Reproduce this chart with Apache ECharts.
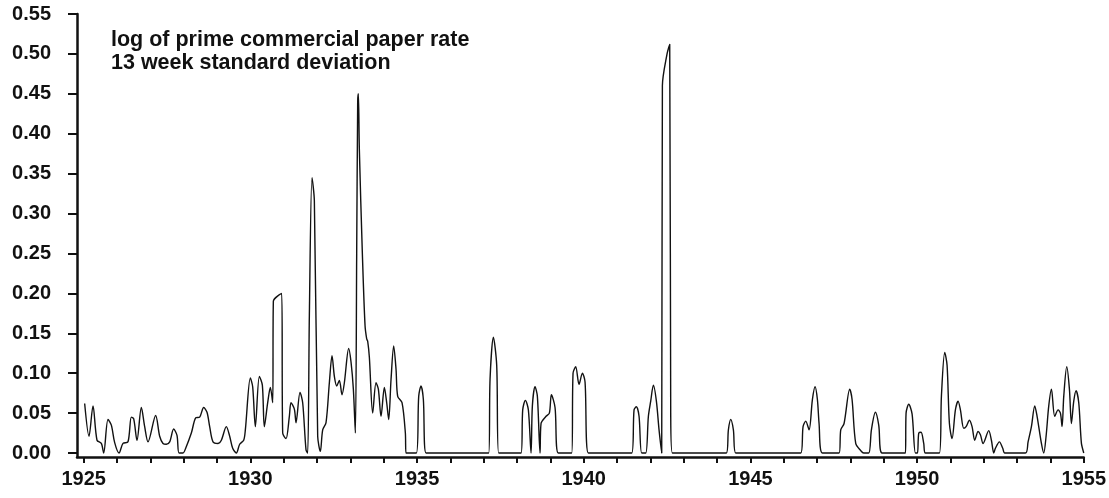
<!DOCTYPE html>
<html>
<head>
<meta charset="utf-8">
<script src="https://cdn.jsdelivr.net/npm/echarts@6/dist/echarts.min.js"></script>
<style>
html,body{margin:0;padding:0;background:#fff;}
#chart{width:1109px;height:498px;}
</style>
</head>
<body>
<div id="chart"></div>
<script>
const titleLines = ["log of prime commercial paper rate", "13 week standard deviation"];
const xTickYears = [1925,1926,1927,1928,1929,1930,1931,1932,1933,1934,1935,1936,1937,1938,1939,1940,1941,1942,1943,1944,1945,1946,1947,1948,1949,1950,1951,1952,1953,1954,1955];
const xLabelYears = [1925,1930,1935,1940,1945,1950,1955];
const yTickValues = [0,0.05,0.10,0.15,0.20,0.25,0.30,0.35,0.40,0.45,0.50,0.55];

const years = [
1925.03,1925.16,1925.28,1925.40,1925.53,1925.60,1925.73,1925.83,1925.93,1926.06,
1926.18,1926.33,1926.43,1926.50,1926.60,1926.73,1926.83,1926.93,1927.16,1927.28,
1927.38,1927.48,1927.58,1927.70,1927.80,1927.86,1927.98,1928.06,1928.23,1928.36,
1928.48,1928.60,1928.70,1928.78,1928.88,1929.03,1929.13,1929.28,1929.38,1929.47,
1929.58,1929.68,1929.80,1929.85,1930.00,1930.07,1930.15,1930.27,1930.36,1930.42,
1930.52,1930.60,1930.67,1930.69,1930.94,1930.97,1931.07,1931.17,1931.22,1931.32,
1931.37,1931.49,1931.57,1931.67,1931.72,1931.77,1931.85,1931.92,1932.02,1932.10,
1932.17,1932.27,1932.37,1932.45,1932.52,1932.59,1932.67,1932.75,1932.82,1932.95,
1933.02,1933.09,1933.15,1933.19,1933.22,1933.24,1933.27,1933.36,1933.44,1933.49,
1933.52,1933.57,1933.67,1933.77,1933.84,1933.92,1934.02,1934.09,1934.15,1934.22,
1934.30,1934.37,1934.42,1934.55,1934.65,1934.67,1934.98,1935.05,1935.12,1935.19,
1935.27,1937.15,1937.19,1937.29,1937.39,1937.45,1938.12,1938.17,1938.25,1938.34,
1938.42,1938.46,1938.54,1938.61,1938.69,1938.72,1938.87,1938.97,1939.03,1939.14,
1939.24,1939.64,1939.68,1939.76,1939.86,1939.96,1940.04,1940.14,1941.44,1941.51,
1941.58,1941.66,1941.74,1941.86,1941.94,1942.01,1942.09,1942.18,1942.26,1942.34,
1942.36,1942.50,1942.58,1942.61,1942.66,1944.28,1944.34,1944.41,1944.49,1944.56,
1946.51,1946.58,1946.66,1946.76,1946.86,1946.94,1947.01,1947.06,1947.16,1947.66,
1947.71,1947.81,1947.98,1948.05,1948.16,1948.31,1948.40,1948.55,1948.63,1948.75,
1948.85,1948.95,1949.65,1949.67,1949.75,1949.85,1949.95,1950.01,1950.05,1950.12,
1950.20,1950.25,1950.67,1950.73,1950.83,1950.90,1950.97,1951.05,1951.15,1951.23,
1951.30,1951.40,1951.47,1951.57,1951.65,1951.73,1951.83,1951.90,1951.98,1952.15,
1952.23,1952.30,1952.35,1952.47,1952.57,1952.63,1953.25,1953.33,1953.43,1953.53,
1953.60,1953.73,1953.80,1953.87,1953.95,1954.03,1954.13,1954.23,1954.30,1954.35,
1954.40,1954.49,1954.57,1954.63,1954.70,1954.77,1954.85,1954.93,1955.00
];
const stdDev = [
0.062,0.021,0.059,0.016,0.012,0.000,0.042,0.035,0.013,0.000,
0.012,0.014,0.045,0.043,0.016,0.057,0.033,0.014,0.047,0.021,
0.012,0.011,0.014,0.030,0.022,0.000,0.000,0.006,0.025,0.044,
0.045,0.057,0.051,0.033,0.014,0.012,0.016,0.033,0.021,0.006,
0.000,0.011,0.016,0.029,0.094,0.083,0.033,0.096,0.085,0.033,
0.063,0.082,0.063,0.190,0.200,0.025,0.018,0.046,0.063,0.055,
0.038,0.076,0.063,0.004,0.000,0.172,0.345,0.316,0.021,0.002,
0.029,0.038,0.088,0.122,0.096,0.084,0.091,0.073,0.088,0.131,
0.114,0.080,0.025,0.250,0.440,0.450,0.380,0.250,0.160,0.143,
0.140,0.120,0.050,0.088,0.080,0.046,0.082,0.063,0.042,0.092,
0.134,0.105,0.071,0.063,0.025,0.000,0.000,0.071,0.084,0.067,
0.000,0.000,0.092,0.145,0.110,0.000,0.000,0.054,0.066,0.054,
0.000,0.059,0.083,0.071,0.000,0.037,0.046,0.050,0.073,0.057,
0.000,0.000,0.100,0.108,0.086,0.100,0.089,0.000,0.000,0.054,
0.058,0.046,0.000,0.000,0.046,0.065,0.085,0.065,0.029,0.000,
0.460,0.500,0.512,0.050,0.000,0.000,0.029,0.042,0.029,0.000,
0.000,0.033,0.040,0.029,0.067,0.083,0.067,0.037,0.000,0.000,
0.029,0.037,0.080,0.067,0.012,0.003,0.000,0.000,0.029,0.051,
0.035,0.000,0.000,0.050,0.061,0.049,0.000,0.000,0.025,0.026,
0.012,0.000,0.000,0.071,0.126,0.110,0.037,0.018,0.054,0.065,
0.054,0.031,0.033,0.041,0.033,0.016,0.027,0.023,0.012,0.028,
0.016,0.000,0.006,0.014,0.006,0.000,0.000,0.014,0.033,0.059,
0.046,0.012,0.000,0.021,0.059,0.080,0.046,0.054,0.050,0.033,
0.071,0.108,0.080,0.037,0.065,0.078,0.063,0.012,0.000
];

const seriesData = years.map((y, i) => [y, stdDev[i]]);
const FONT = '"Liberation Sans", Arial, Helvetica, sans-serif';

const chart = echarts.init(document.getElementById('chart'), null, {renderer: 'canvas'});
chart.setOption({
  animation: false,
  backgroundColor: '#ffffff',
  title: {
    text: titleLines.join('\n'),
    left: 111,
    top: 29,
    padding: 0,
    textStyle: {fontFamily: FONT, fontSize: 21.5, fontWeight: 'bold', color: '#111', lineHeight: 23}
  },
  grid: {left: 77, right: 24, top: 14, bottom: 41, containLabel: false},
  xAxis: {
    type: 'value',
    min: 1924.8,
    max: 1955,
    splitLine: {show: false},
    axisLine: {show: true, onZero: false, lineStyle: {color: '#111', width: 2.5}},
    axisTick: {show: true, customValues: xTickYears, length: 6, lineStyle: {color: '#111', width: 2}},
    axisLabel: {customValues: xLabelYears, margin: 12, color: '#111', fontFamily: FONT, fontSize: 20,
      fontWeight: 'bold', formatter: v => String(Math.round(v))}
  },
  yAxis: {
    type: 'value',
    min: -0.005,
    max: 0.55,
    splitLine: {show: false},
    axisLine: {show: true, onZero: false, lineStyle: {color: '#111', width: 2.5}},
    axisTick: {show: true, customValues: yTickValues, length: 9, lineStyle: {color: '#111', width: 2}},
    axisLabel: {customValues: yTickValues, margin: 26, color: '#111', fontFamily: FONT, fontSize: 20,
      fontWeight: 'bold', formatter: v => v.toFixed(2)}
  },
  series: [{
    type: 'line',
    data: seriesData,
    showSymbol: false,
    smooth: 0.3,
    lineStyle: {color: '#111', width: 1.4},
    clip: false
  }]
});
</script>
</body>
</html>
